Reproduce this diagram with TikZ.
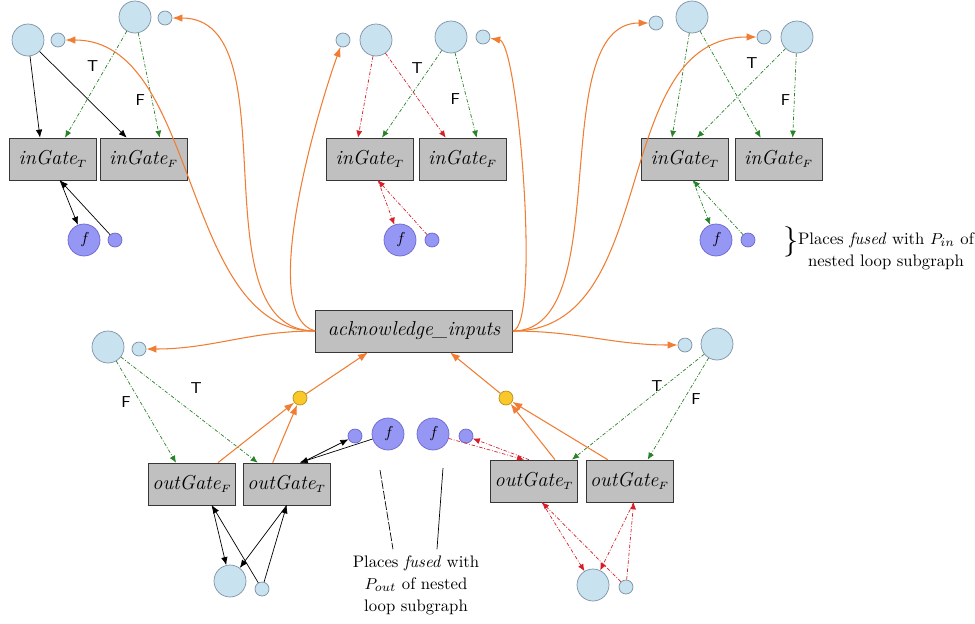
\documentclass[tikz,border=0pt]{standalone}
\usepackage{amsmath}
\usepackage{xcolor}
\usepackage{tikz}
\usetikzlibrary{arrows.meta,positioning,calc}
\definecolor{placefill}{RGB}{200,226,240}
\definecolor{placeedge}{RGB}{125,145,165}
\definecolor{fusedfill}{RGB}{150,150,245}
\definecolor{fusededge}{RGB}{105,105,205}
\definecolor{joinfill}{RGB}{250,200,40}
\definecolor{joinedge}{RGB}{185,145,30}
\definecolor{gatefill}{RGB}{192,192,192}
\definecolor{gateedge}{RGB}{55,55,55}
\definecolor{flowcol}{RGB}{240,125,50}
\definecolor{tcol}{RGB}{40,130,40}
\definecolor{rcol}{RGB}{215,30,40}
\newcommand{\gsub}[1]{$_{\scriptscriptstyle #1}$}
\tikzset{
  place/.style={circle, draw=placeedge, fill=placefill, minimum size=6.4mm, inner sep=0pt},
  splace/.style={place, minimum size=2.8mm},
  fplace/.style={circle, draw=fusededge, fill=fusedfill, minimum size=6.4mm, inner sep=0pt,
                 font=\small\itshape},
  sfplace/.style={fplace, minimum size=2.8mm},
  jplace/.style={circle, draw=joinedge, fill=joinfill, minimum size=2.8mm, inner sep=0pt},
  gate/.style={draw=gateedge, fill=gatefill, minimum width=17.4mm, minimum height=8.4mm,
               inner sep=1pt, font=\fontsize{11.5}{14}\selectfont\itshape},
  ackbox/.style={gate, minimum width=39.4mm},
  flow/.style={-{Latex[length=2mm,width=1.5mm]}, semithick, draw=flowcol},
  tarc/.style={-{Latex[length=1.4mm,width=1.2mm]}, thin, draw=tcol,
               dash pattern=on 2pt off 1pt on 0.5pt off 1pt},
  rarc/.style={tarc, draw=rcol},
  barc/.style={-{Latex[length=1.6mm,width=1.3mm]}, thin, draw=black},
  tf/.style={font=\sffamily\small, inner sep=1pt},
  note/.style={font=\fontsize{9.5}{12.5}\selectfont, align=center},
}
\begin{document}
\begin{tikzpicture}[x=0.02cm, y=-0.02cm]
  \useasboundingbox (0,0) rectangle (975,623);
  % input side, left
  \node[place] (pl1) at (28,40) {};
  \node[splace] (ql1) at (58,40) {};
  \node[place] (pl2) at (135,17) {};
  \node[splace] (ql2) at (165,18) {};
  \node[gate] (inTl) at (53,159) {inGate\gsub{T}};
  \node[gate, right=0.6mm of inTl] (inFl) {inGate\gsub{F}};
  \node[fplace] (fl) at (84,240) {f};
  \node[sfplace] (gl) at (115,240) {};
  % input side, middle
  \node[splace] (qm1) at (343,40) {};
  \node[place] (pm1) at (376,40) {};
  \node[place] (pm2) at (451,37) {};
  \node[splace] (qm2) at (483,37) {};
  \node[gate] (inTm) at (370,159) {inGate\gsub{T}};
  \node[gate, right=1mm of inTm] (inFm) {inGate\gsub{F}};
  \node[fplace] (fm) at (400,240) {f};
  \node[sfplace] (gm) at (432,240) {};
  % input side, right
  \node[splace] (qr1) at (656,23) {};
  \node[place] (pr1) at (692,17) {};
  \node[splace] (qr2) at (764,37) {};
  \node[place] (pr2) at (797,37) {};
  \node[gate] (inTr) at (685,159) {inGate\gsub{T}};
  \node[gate, right=1.2mm of inTr] (inFr) {inGate\gsub{F}};
  \node[fplace] (fr) at (716,240) {f};
  \node[sfplace] (gr) at (748,240) {};
  \node[font=\LARGE, inner sep=0pt] (brace) at (791,242) {$\}$};
  \node[note] (pin) at (886,251) {Places \textit{fused} with $P_{in}$ of\\ nested loop subgraph};
  % centre
  \node[ackbox] (ack) at (414,331) {acknowledge\_inputs};
  % output side, left
  \node[place] (pb1) at (108,347) {};
  \node[splace] (qb1) at (139,349) {};
  \node[gate] (outFl) at (192,484) {outGate\gsub{F}};
  \node[gate, right=1.4mm of outFl] (outTl) {outGate\gsub{T}};
  \node[jplace] (jl) at (300,398) {};
  \node[sfplace] (hl) at (355,436) {};
  \node[fplace] (fo1) at (388,434) {f};
  \node[place] (pe1) at (230,581) {};
  \node[splace] (qe1) at (262,589) {};
  % output side, right
  \node[fplace] (fo2) at (433,434) {f};
  \node[sfplace] (hr) at (466,436) {};
  \node[jplace] (jr) at (506,398) {};
  \node[gate] (outTr) at (534,481) {outGate\gsub{T}};
  \node[gate, right=1.6mm of outTr] (outFr) {outGate\gsub{F}};
  \node[splace] (qb2) at (685,345) {};
  \node[place] (pb2) at (717,344) {};
  \node[place] (pe2) at (593,585) {};
  \node[splace] (qe2) at (626,587) {};
  \node[note] (pout) at (416,585) {Places \textit{fused} with\\ $P_{out}$ of nested\\ loop subgraph};
  \coordinate (u1) at (380,470);
  \coordinate (u2) at (443,468);

  % arcs into the input gates
  \draw[barc] (pl1) -- ([xshift=-2.6mm]inTl.north);
  \draw[barc] (pl1) -- ([xshift=-3.4mm]inFl.north);
  \draw[tarc] (pl2) -- node[tf, pos=0.33, left=1.2mm] {T} ([xshift=2.4mm]inTl.north);
  \draw[tarc] (pl2) -- node[tf, pos=0.64, left=1mm] {F} ([xshift=3.2mm]inFl.north);
  \draw[barc] ([xshift=1.4mm]inTl.south) -- (fl);
  \draw[barc] (gl) -- ([xshift=1.4mm]inTl.south);

  \draw[rarc] (pm1) -- ([xshift=-2.4mm]inTm.north);
  \draw[rarc] (pm1) -- ([xshift=-3.4mm]inFm.north);
  \draw[tarc] (pm2) -- node[tf, pos=0.2, left=1mm] {T} ([xshift=2.4mm]inTm.north);
  \draw[tarc] (pm2) -- node[tf, pos=0.55, left=1mm] {F} ([xshift=2.8mm]inFm.north);
  \draw[rarc] ([xshift=1.6mm]inTm.south) -- (fm);
  \draw[rarc] (gm) -- ([xshift=1.6mm]inTm.south);

  \draw[tarc] (pr1) -- ([xshift=-2.6mm]inTr.north);
  \draw[tarc] (pr1) -- ([xshift=-3.6mm]inFr.north);
  \draw[tarc] (pr2) -- node[tf, pos=0.26, above left=0.2mm and 0.6mm] {T} ([xshift=2.4mm]inTr.north);
  \draw[tarc] (pr2) -- node[tf, pos=0.55, left=0.4mm] {F} ([xshift=2.8mm]inFr.north);
  \draw[tarc] ([xshift=1.6mm]inTr.south) -- (fr);
  \draw[tarc] (gr) -- ([xshift=1.6mm]inTr.south);

  % acknowledgements
  \draw[flow] (ack.west) to[out=180, in=0, looseness=0.9] (ql1);
  \draw[flow] (ack.west) to[out=180, in=0, looseness=0.9] (ql2);
  \draw[flow] (ack.west) to[out=165, in=250, looseness=0.55] (qm1);
  \draw[flow] (ack.west) to[out=180, in=0] (qb1);
  \draw[flow] (ack.east) to[out=10, in=-10, looseness=0.25] (qm2);
  \draw[flow] (ack.east) to[out=0, in=180, looseness=0.8] (qr1);
  \draw[flow] (ack.east) to[out=0, in=180] (qr2);
  \draw[flow] (ack.east) to[out=0, in=180] (qb2);

  % output gates
  \draw[flow] ([xshift=5.2mm]outFl.north) -- (jl);
  \draw[flow] ([xshift=-2.8mm]outTl.north) -- (jl);
  \draw[flow] (jl) -- ([xshift=-9.2mm]ack.south);
  \draw[flow] ([xshift=4.2mm]outTr.north) -- (jr);
  \draw[flow] ([xshift=-4.4mm]outFr.north) -- (jr);
  \draw[flow] (jr) -- ([xshift=7.2mm]ack.south);

  \draw[tarc] (pb1) -- node[tf, pos=0.4, left=1.5mm] {F} ([xshift=-3.2mm]outFl.north);
  \draw[tarc] (pb1) -- node[tf, pos=0.55, above=4mm] {T} ([xshift=-5.8mm]outTl.north);
  \draw[barc] ([xshift=3mm]outTl.north) -- (hl);
  \draw[barc] (fo1) -- ([xshift=2.6mm]outTl.north);
  \draw[barc] ([xshift=4mm]outFl.south) -- (pe1);
  \draw[barc] (qe1) -- ([xshift=4mm]outFl.south);
  \draw[barc] (outTl.south) -- (pe1);
  \draw[barc] (qe1) -- (outTl.south);

  \draw[tarc] (pb2) -- node[tf, pos=0.3, left=0mm] {T} ([xshift=7.6mm]outTr.north);
  \draw[tarc] (pb2) -- node[tf, pos=0.4, right=1mm] {F} ([xshift=3.6mm]outFr.north);
  \draw[rarc] ([xshift=-1mm]outTr.north) -- (hr);
  \draw[rarc] (fo2) -- ([xshift=-2mm]outTr.north);
  \draw[rarc] ([xshift=1.6mm]outTr.south) -- (pe2);
  \draw[rarc] (qe2) -- ([xshift=1.6mm]outTr.south);
  \draw[rarc] ([xshift=0.8mm]outFr.south) -- (pe2);
  \draw[rarc] (qe2) -- ([xshift=0.8mm]outFr.south);

  % leaders to the note
  \draw[thin, dash pattern=on 5pt off 1pt] (u1) -- ([xshift=-4.6mm]pout.north);
  \draw[thin] (u2) -- ([xshift=4.2mm]pout.north);
\end{tikzpicture}
\end{document}
